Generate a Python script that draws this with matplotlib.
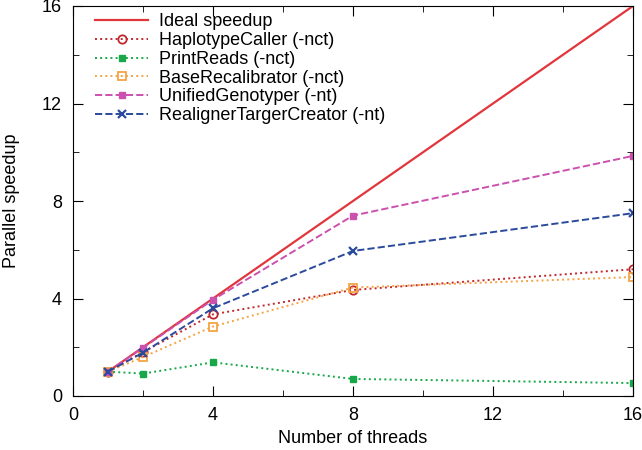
import matplotlib
matplotlib.use('Agg')
import matplotlib.pyplot as plt
from matplotlib.ticker import MultipleLocator

plt.rcParams['font.family'] = ['Liberation Sans', 'DejaVu Sans']

threads = [1, 2, 4, 8, 16]
ideal = [1, 2, 4, 8, 16]
haplotype = [1.0, 1.8, 3.35, 4.35, 5.2]
printreads = [1.0, 0.92, 1.38, 0.7, 0.53]
baserecal = [1.0, 1.6, 2.85, 4.45, 4.88]
unified = [1.0, 1.98, 3.95, 7.4, 9.85]
realigner = [1.0, 1.78, 3.6, 5.95, 7.5]

fig = plt.figure(figsize=(6.42, 4.5), dpi=100)
ax = fig.add_axes([73/642, 54/450, 560/642, 390/450])

ax.plot(threads, ideal, '-', color='#e0363c', lw=1.6, label='Ideal speedup')
ax.plot(threads, haplotype, ':', color='#c0282d', lw=1.4, marker='o', ms=6,
        mfc='none', mew=1.3, label='HaplotypeCaller (-nct)')
ax.plot(threads, printreads, ':', color='#18a84a', lw=1.4, marker='s', ms=5,
        label='PrintReads (-nct)')
ax.plot(threads, baserecal, ':', color='#f5a444', lw=1.4, marker='s', ms=6,
        mfc='none', mew=1.3, label='BaseRecalibrator (-nct)')
ax.plot(threads, unified, '--', color='#cc50ae', lw=1.4, marker='s', ms=5,
        label='UnifiedGenotyper (-nt)')
ax.plot(threads, realigner, '--', color='#2a4a9c', lw=1.4, marker='x', ms=6,
        mew=1.6, label='RealignerTargerCreator (-nt)')

ax.set_xlim(0, 16)
ax.set_ylim(0, 16)
ax.xaxis.set_major_locator(MultipleLocator(4))
ax.xaxis.set_minor_locator(MultipleLocator(2))
ax.yaxis.set_major_locator(MultipleLocator(4))
ax.yaxis.set_minor_locator(MultipleLocator(2))
ax.tick_params(which='both', direction='in', top=True, right=True, labelsize=13)
ax.tick_params(which='major', length=7, pad=8)
ax.tick_params(which='minor', length=4)
ax.set_xlabel('Number of threads', fontsize=13, labelpad=4)
ax.set_ylabel('Parallel speedup', fontsize=13, labelpad=16)

ax.legend(loc='upper left', frameon=False, fontsize=13, handlelength=2.9,
          labelspacing=0.1, borderaxespad=0.1, borderpad=0.3,
          bbox_to_anchor=(0.027, 1.0), handletextpad=0.6)

fig.savefig('out.png', dpi=100)
